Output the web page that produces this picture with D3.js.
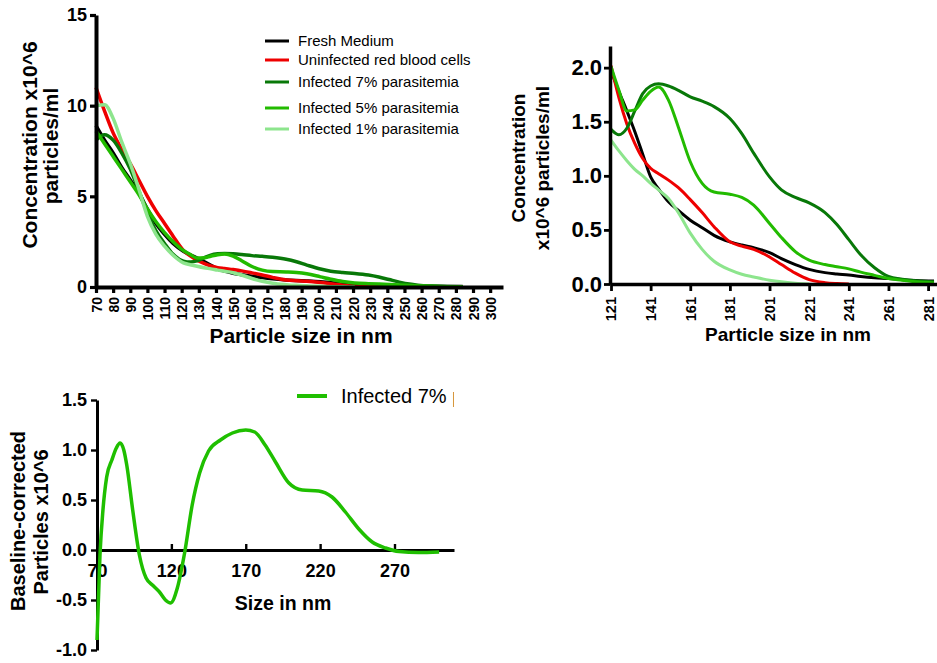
<!DOCTYPE html>
<html>
<head>
<meta charset="utf-8">
<script src="https://cdn.jsdelivr.net/npm/d3@7"></script>
<style>
body { margin: 0; background: #fff; }
svg { display: block; font-family: "Liberation Sans", Arial, sans-serif; }
.axis path, .axis line { stroke: #000; }
.axis text { font-weight: bold; fill: #000; }
.title { font-weight: bold; fill: #000; }
</style>
</head>
<body>
<svg width="937" height="663"></svg>
<script>
// particle size grid (nm) shared by the five NTA series
var sizes = [70, 75, 80, 85, 90, 95, 100, 105, 110, 115, 121, 125, 129, 133, 137, 141, 145, 150, 155, 161,
	167, 173, 181, 187, 193, 201, 207, 214, 221, 229, 235, 241, 247, 254, 261, 268, 275, 284];

var freshMedium = [8.9, 8.1, 7.4, 6.6, 5.9, 5.2, 4.3, 3.5, 2.9, 2.4, 1.97, 1.78, 1.6, 1.41, 1.2, 0.99, 0.88, 0.76, 0.68, 0.59,
	0.52, 0.45, 0.39, 0.36, 0.335, 0.29, 0.235, 0.18, 0.135, 0.105, 0.093, 0.083, 0.07, 0.058, 0.05, 0.04, 0.033, 0.028];
var uninfected = [11.0, 9.7, 8.5, 7.6, 6.8, 5.9, 5.0, 4.2, 3.5, 2.8, 2.02, 1.72, 1.48, 1.3, 1.16, 1.07, 1.02, 0.96, 0.89, 0.78,
	0.66, 0.53, 0.39, 0.35, 0.32, 0.25, 0.18, 0.1, 0.04, 0.012, 0.004, 0, null, null, null, null, null, null];
var infected7 = [8.1, 8.4, 8.1, 7.4, 6.5, 5.3, 4.1, 3.1, 2.4, 1.8, 1.43, 1.38, 1.44, 1.6, 1.76, 1.83, 1.85, 1.83, 1.79, 1.73,
	1.69, 1.64, 1.53, 1.39, 1.21, 0.99, 0.87, 0.8, 0.75, 0.66, 0.55, 0.41, 0.27, 0.15, 0.07, 0.045, 0.03, 0.02];
var infected5 = [8.6, 7.9, 7.2, 6.5, 5.8, 5.1, 4.3, 3.6, 3.0, 2.5, 2.01, 1.79, 1.6, 1.61, 1.7, 1.78, 1.82, 1.7, 1.45, 1.13,
	0.93, 0.85, 0.83, 0.8, 0.73, 0.56, 0.43, 0.3, 0.22, 0.18, 0.16, 0.14, 0.11, 0.08, 0.05, 0.035, 0.02, 0.01];
var infected1 = [10.0, 10.05, 9.3, 8.0, 6.8, 5.4, 3.9, 2.9, 2.25, 1.75, 1.33, 1.23, 1.14, 1.06, 1.0, 0.93, 0.87, 0.79, 0.66, 0.47,
	0.32, 0.21, 0.13, 0.09, 0.065, 0.035, 0.02, 0.008, 0, null, null, null, null, null, null, null, null, null];

var seriesNames = ["Fresh Medium", "Uninfected red blood cells", "Infected 7% parasitemia",
	"Infected 5% parasitemia", "Infected 1% parasitemia"];
var seriesColors = ["#000000", "#ee0000", "#087808", "#22bb00", "#8de58d"];
var seriesValues = [freshMedium, uninfected, infected7, infected5, infected1];

// baseline-corrected curve (bottom panel)
var corrSizes = [70, 72, 74, 76.5, 80, 83, 85.5, 88, 90, 94, 98.5, 103, 108, 112, 116, 119.5, 124, 129, 134, 139,
	145, 153, 161, 170, 176, 183, 190, 199, 208, 219, 228, 237, 246, 255, 264, 273, 286, 300];
var corrValues = [-0.9, -0.05, 0.4, 0.73, 0.9, 1.02, 1.07, 1.0, 0.85, 0.4, -0.05, -0.28, -0.36, -0.42, -0.5, -0.53, -0.38, -0.02, 0.45, 0.77,
	0.99, 1.1, 1.17, 1.2, 1.18, 1.05, 0.88, 0.67, 0.6, 0.59, 0.53, 0.38, 0.21, 0.08, 0.02, -0.015, -0.025, -0.02];

var ticks1x = d3.range(70, 301, 10);
var ticks1y = [0, 5, 10, 15];
var ticks2x = d3.range(121, 282, 20);
var ticks2y = [0, 0.5, 1, 1.5, 2];
var ticks3x = [70, 120, 170, 220, 270];
var ticks3y = [-1, -0.5, 0, 0.5, 1, 1.5];

var svg = d3.select("svg");
svg.append("rect").attr("width", 937).attr("height", 663).attr("fill", "#fff");

var fmt1 = (d) => d.toFixed(1); // plain hyphen minus like the original

var series = seriesNames.map((name, i) => ({
	name: name,
	color: seriesColors[i],
	points: sizes.map((s, j) => [s, seriesValues[i][j]]),
}));

const styleAxis = (g, w, fs) => {
	g.attr("class", "axis");
	g.select(".domain").attr("stroke-width", w);
	g.selectAll(".tick line").attr("stroke-width", w * 0.8);
	g.selectAll("text").style("font-size", fs + "px");
};

const vtitle = (x, y, txt, fs) =>
	svg.append("text").attr("class", "title").attr("transform", `translate(${x},${y}) rotate(-90)`)
		.attr("text-anchor", "middle").style("font-size", fs + "px").text(txt);
const htitle = (x, y, txt, fs) =>
	svg.append("text").attr("class", "title").attr("x", x).attr("y", y)
		.attr("text-anchor", "middle").style("font-size", fs + "px").text(txt);

// ---- panel 1 : full range
var x1 = d3.scaleLinear().domain([70, 307.5]).range([96, 503]);
var y1 = d3.scaleLinear().domain([0, 15]).range([287, 15]);

var line1 = d3.line().defined((d) => d[1] != null).x((d) => x1(d[0])).y((d) => y1(d[1])).curve(d3.curveMonotoneX);
svg.append("g").selectAll("path").data(series).enter().append("path")
	.attr("d", (d) => line1(d.points)).attr("fill", "none")
	.attr("stroke", (d) => d.color).attr("stroke-width", 3.5);

svg.append("g").attr("transform", "translate(0,287)")
	.call(d3.axisBottom(x1).tickValues(ticks1x).tickSize(6).tickSizeOuter(0))
	.call((g) => styleAxis(g, 4, 14))
	.call((g) => g.selectAll("text").attr("transform", "rotate(-90)").attr("text-anchor", "end")
		.attr("x", -10).attr("y", 0).attr("dy", "0.36em"));
svg.append("g").attr("transform", "translate(96,0)")
	.call(d3.axisLeft(y1).tickValues(ticks1y).tickSize(6).tickPadding(3).tickSizeOuter(0))
	.call((g) => styleAxis(g, 4, 18));

vtitle(37, 145, "Concentration x10^6", 21);
vtitle(58, 146, "particles/ml", 21);
htitle(301, 343, "Particle size in nm", 21);

var legend = svg.append("g").selectAll("g").data(series).enter().append("g")
	.attr("transform", (d, i) => `translate(265,${[46, 65, 87, 113, 134][i]})`);
legend.append("line").attr("x1", 0).attr("x2", 24).attr("y1", -5).attr("y2", -5)
	.attr("stroke", (d) => d.color).attr("stroke-width", 3);
legend.append("text").attr("x", 33).style("font-size", "15px").text((d) => d.name);

// ---- panel 2 : zoom on 121 nm and up
var x2 = d3.scaleLinear().domain([121, 285.5]).range([611, 937]);
var y2 = d3.scaleLinear().domain([0, 2.2]).range([284, 46]);

svg.append("clipPath").attr("id", "clip2").append("rect")
	.attr("x", 611).attr("y", 40).attr("width", 330).attr("height", 250);
var line2 = d3.line().defined((d) => d[1] != null).x((d) => x2(d[0])).y((d) => y2(d[1])).curve(d3.curveMonotoneX);
svg.append("g").attr("clip-path", "url(#clip2)").selectAll("path").data(series).enter().append("path")
	.attr("d", (d) => line2(d.points.filter((p) => p[0] >= 121))).attr("fill", "none")
	.attr("stroke", (d) => d.color).attr("stroke-width", 3);

svg.append("g").attr("transform", "translate(0,284)")
	.call(d3.axisBottom(x2).tickValues(ticks2x).tickSize(7).tickSizeOuter(0))
	.call((g) => styleAxis(g, 3.5, 14.5))
	.call((g) => g.selectAll("text").attr("transform", "rotate(-90)").attr("text-anchor", "end")
		.attr("x", -13).attr("y", 0).attr("dy", "0.34em"));
svg.append("g").attr("transform", "translate(610,0)")
	.call(d3.axisLeft(y2).tickValues(ticks2y).tickFormat(fmt1).tickSize(6).tickPadding(2).tickSizeOuter(0))
	.call((g) => styleAxis(g, 3.5, 22));

vtitle(525, 158, "Concentration", 19);
vtitle(549, 168, "x10^6 particles/ml", 19);
htitle(788, 341, "Particle size in nm", 19);

// ---- panel 3 : baseline corrected
var x3 = d3.scaleLinear().domain([70, 310]).range([97, 454]);
var y3 = d3.scaleLinear().domain([-1, 1.5]).range([650, 400]);

svg.append("g").attr("transform", "translate(0,550)")
	.call(d3.axisBottom(x3).tickValues(ticks3x).tickSize(-6).tickPadding(14).tickSizeOuter(0))
	.call((g) => styleAxis(g, 3, 18));
svg.append("g").attr("transform", "translate(97,0)")
	.call(d3.axisLeft(y3).tickValues(ticks3y).tickFormat(fmt1).tickSize(6).tickPadding(4).tickSizeOuter(0))
	.call((g) => styleAxis(g, 3, 18));

var line3 = d3.line().x((d, i) => x3(corrSizes[i])).y((d) => y3(d)).curve(d3.curveMonotoneX);
svg.append("path").attr("d", line3(corrValues)).attr("fill", "none")
	.attr("stroke", "#1fbf00").attr("stroke-width", 3.5);

vtitle(25, 521, "Baseline-corrected", 20);
vtitle(48, 522, "Particles x10^6", 20);
htitle(283, 610, "Size in nm", 19.5);

// legend of the bottom panel is cut at the panel edge in the original
svg.append("clipPath").attr("id", "clip3").append("rect")
	.attr("x", 280).attr("y", 370).attr("width", 174).attr("height", 50);
var leg3 = svg.append("g").attr("clip-path", "url(#clip3)");
leg3.append("line").attr("x1", 297).attr("x2", 327).attr("y1", 396).attr("y2", 396)
	.attr("stroke", "#1fbf00").attr("stroke-width", 4);
leg3.append("text").attr("x", 341).attr("y", 403).style("font-size", "20px").text("Infected 7% parasitemia");
</script>
</body>
</html>
